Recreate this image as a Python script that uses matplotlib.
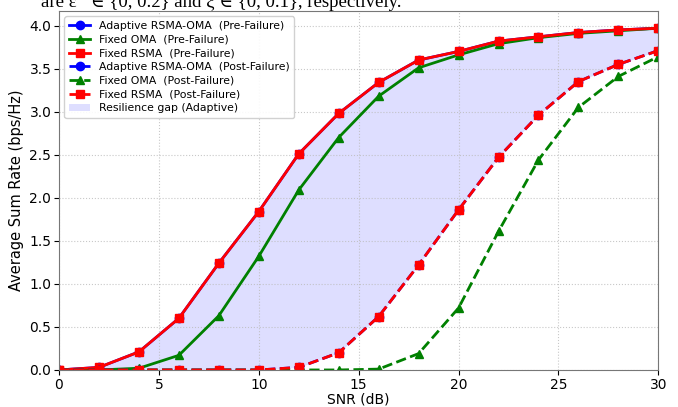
import matplotlib
matplotlib.use("Agg")
import matplotlib.pyplot as plt
import numpy as np

snr = [0, 2, 4, 6, 8, 10, 12, 14, 16, 18, 20, 22, 24, 26, 28, 30]

rsma_pre = [0.0, 0.03, 0.21, 0.60, 1.24, 1.84, 2.51, 2.98, 3.34, 3.60, 3.70, 3.82, 3.87, 3.92, 3.95, 3.97]
oma_pre = [0.0, 0.0, 0.02, 0.17, 0.63, 1.32, 2.09, 2.70, 3.18, 3.51, 3.66, 3.79, 3.86, 3.91, 3.94, 3.97]
adapt_pre = [0.0, 0.03, 0.21, 0.60, 1.24, 1.84, 2.51, 2.98, 3.34, 3.60, 3.70, 3.82, 3.87, 3.92, 3.95, 3.97]

rsma_post = [0.0, 0.0, 0.0, 0.0, 0.0, 0.0, 0.03, 0.20, 0.62, 1.22, 1.86, 2.47, 2.96, 3.35, 3.55, 3.71]
oma_post = [0.0, 0.0, 0.0, 0.0, 0.0, 0.0, 0.0, 0.0, 0.01, 0.19, 0.72, 1.61, 2.44, 3.05, 3.41, 3.64]
adapt_post = [0.0, 0.0, 0.0, 0.0, 0.0, 0.0, 0.03, 0.20, 0.62, 1.22, 1.86, 2.47, 2.96, 3.35, 3.55, 3.71]

caption = "are ε   ∈ {0, 0.2} and ξ ∈ {0, 0.1}, respectively."

fig = plt.figure(figsize=(6.78, 4.07), dpi=100)
ax = fig.add_axes([0.087, 0.091, 0.884, 0.882])

ms = 6
ax.plot(snr, adapt_pre, '-o', color='blue', lw=2, ms=ms, label='Adaptive RSMA-OMA  (Pre-Failure)')
ax.plot(snr, oma_pre, '-^', color='green', lw=2, ms=ms, label='Fixed OMA  (Pre-Failure)')
ax.plot(snr, rsma_pre, '-s', color='red', lw=2, ms=ms, label='Fixed RSMA  (Pre-Failure)')
ax.plot(snr, adapt_post, '--o', color='blue', lw=2, ms=ms, label='Adaptive RSMA-OMA  (Post-Failure)')
ax.plot(snr, oma_post, '--^', color='green', lw=2, ms=ms, label='Fixed OMA  (Post-Failure)')
ax.plot(snr, rsma_post, '--s', color='red', lw=2, ms=ms, label='Fixed RSMA  (Post-Failure)')
ax.fill_between(snr, adapt_post, adapt_pre, color='blue', alpha=0.13, lw=0,
                label='Resilience gap (Adaptive)')

ax.set_xlim(0, 30)
ax.set_ylim(0, 4.17)
ax.set_xlabel('SNR (dB)', fontsize=10, labelpad=1)
ax.set_ylabel('Average Sum Rate (bps/Hz)', fontsize=10.5)
ax.tick_params(labelsize=10, pad=2)
ax.grid(True, linestyle=':', color='#bbbbbb', alpha=0.8)
for s in ax.spines.values():
    s.set_color('#777777')
ax.legend(loc='upper left', fontsize=7.8, framealpha=0.9, labelspacing=0.35)

fig.text(0.06, 0.995, caption, family=['Liberation Serif', 'DejaVu Serif'], fontsize=13.5,
         va='center', ha='left')

fig.savefig('out.png', dpi=100)
